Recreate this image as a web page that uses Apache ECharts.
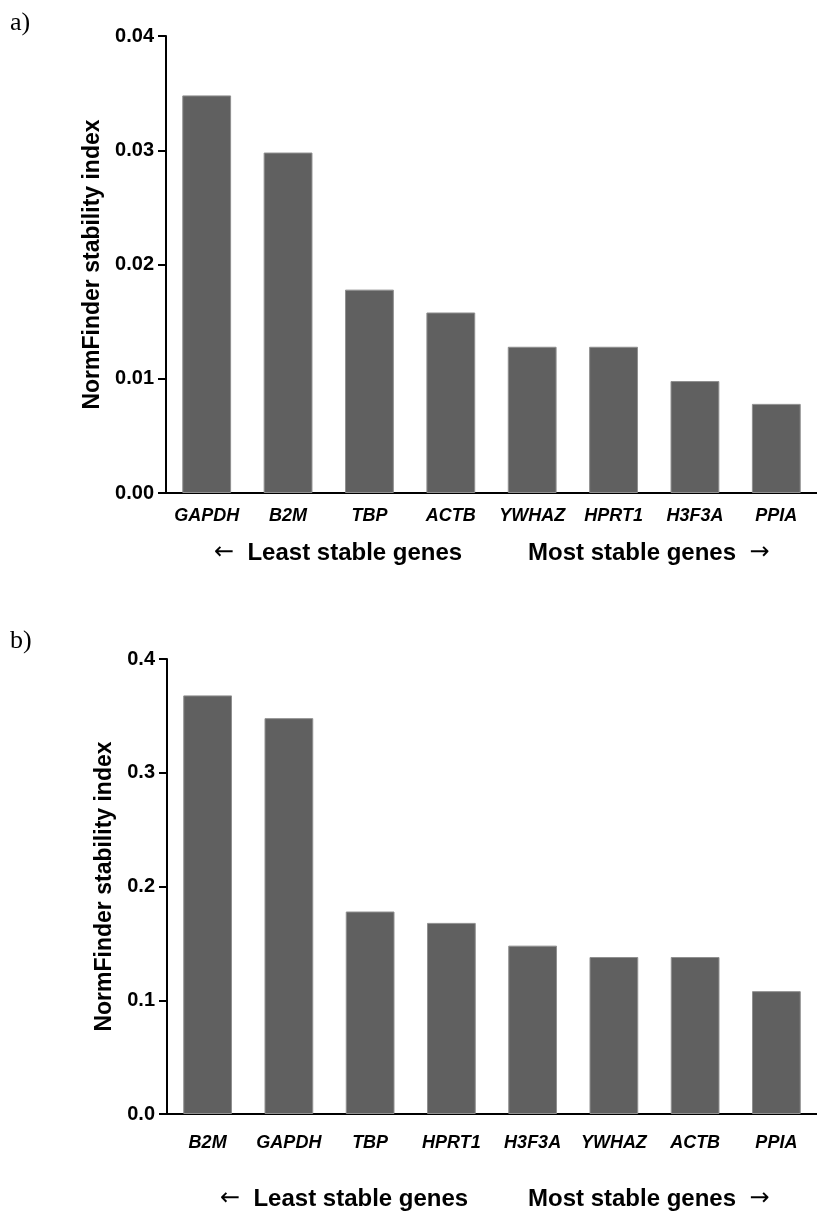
<!DOCTYPE html>
<html><head><meta charset="utf-8">
<script src="https://cdn.jsdelivr.net/npm/echarts@6/dist/echarts.min.js"></script>
<style>html,body{margin:0;padding:0;background:#fff}#c{width:817px;height:1222px}</style>
</head><body><div id="c"></div>
<script>
// Panel a
const genesA = ['GAPDH','B2M','TBP','ACTB','YWHAZ','HPRT1','H3F3A','PPIA'];
const valuesA = [0.0348,0.0298,0.0178,0.0158,0.0128,0.0128,0.0098,0.0078];
const ticksA = [0.00,0.01,0.02,0.03,0.04];
// Panel b
const genesB = ['B2M','GAPDH','TBP','HPRT1','H3F3A','YWHAZ','ACTB','PPIA'];
const valuesB = [0.368,0.348,0.178,0.168,0.148,0.138,0.138,0.108];
const ticksB = [0.0,0.1,0.2,0.3,0.4];
const yTitle = 'NormFinder stability index';
const footLeftWords = 'Least stable genes';
const footRightWords = 'Most stable genes';

const FONT = '"Liberation Sans", Arial, sans-serif';
const chart = echarts.init(document.getElementById('c'), null, {renderer:'canvas'});

function xAxis(idx, data, margin){
  return {type:'category', gridIndex:idx, data:data,
    axisLine:{lineStyle:{color:'#000', width:2}},
    axisTick:{alignWithLabel:true, interval:0, length:8, lineStyle:{color:'#000', width:2}},
    axisLabel:{interval:0, fontFamily:FONT, fontWeight:'bold', fontStyle:'italic', fontSize:18, color:'#000', margin:margin}};
}
function yAxis(idx, ticks, dec, gap){
  return {type:'value', gridIndex:idx, min:ticks[0], max:ticks[ticks.length-1],
    interval:ticks[1]-ticks[0],
    name:yTitle, nameLocation:'middle', nameGap:gap,
    nameTextStyle:{fontFamily:FONT, fontWeight:'bold', fontSize:23, color:'#000'},
    splitLine:{show:false},
    axisLine:{show:true, lineStyle:{color:'#000', width:2}},
    axisTick:{show:true, length:8, lineStyle:{color:'#000', width:2}},
    axisLabel:{fontFamily:FONT, fontWeight:'bold', fontSize:20, color:'#000', margin:12,
      formatter:v=>v.toFixed(dec)}};
}
const barStyle = {color:'#606060', borderColor:'#8f8f8f', borderWidth:1};
const richFoot = {
  w:{fontFamily:FONT, fontWeight:'bold', fontSize:24, color:'#000'},
  ar:{fontFamily:'"DejaVu Sans", sans-serif', fontSize:24, color:'#000'}
};
function foot(left, top, leftArrow, words){
  return {type:'text', left:left, top:top, style:{
    text: leftArrow ? '{ar|\u2190}{w|  '+words+'}' : '{w|'+words+'  }{ar|\u2192}',
    rich: richFoot}};
}

chart.setOption({
  animation:false,
  backgroundColor:'#fff',
  grid:[
    {left:166, top:36, width:662, height:457},
    {left:167, top:659, width:657, height:455}
  ],
  xAxis:[xAxis(0, genesA, 14), xAxis(1, genesB, 20)],
  yAxis:[yAxis(0, ticksA, 2, 62), yAxis(1, ticksB, 1, 51)],
  series:[
    {type:'bar', xAxisIndex:0, yAxisIndex:0, data:valuesA, barWidth:'60%', itemStyle:barStyle},
    {type:'bar', xAxisIndex:1, yAxisIndex:1, data:valuesB, barWidth:'60%', itemStyle:barStyle}
  ],
  graphic:[
    {type:'text', left:10, top:10, style:{text:'a)', font:'26px "Liberation Serif", serif', fill:'#000'}},
    {type:'text', left:10, top:628, style:{text:'b)', font:'26px "Liberation Serif", serif', fill:'#000'}},
    foot(214, 541, true, footLeftWords),
    foot(528, 541, false, footRightWords),
    foot(220, 1187, true, footLeftWords),
    foot(528, 1187, false, footRightWords)
  ]
});
</script></body></html>
